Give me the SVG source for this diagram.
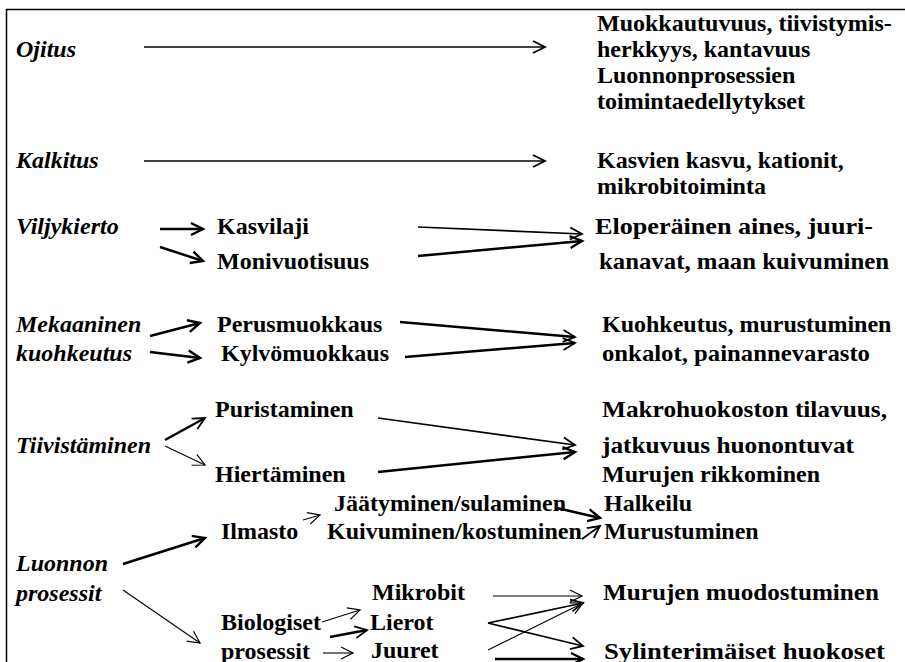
<svg xmlns="http://www.w3.org/2000/svg" width="905" height="662" viewBox="0 0 905 662">
<style>
text{font-family:'Liberation Serif',Tinos,'Times New Roman',serif;font-weight:bold;font-size:24px;fill:#000}
.it{font-style:italic}
.c{fill:none;stroke:#000;stroke-linecap:butt}
.w1{stroke-width:1.1}
.w2{stroke-width:1.7}
.w3{stroke-width:2.5}
</style>
<defs>
<marker id="m1" markerUnits="userSpaceOnUse" markerWidth="16" markerHeight="16" refX="13" refY="7" orient="auto" overflow="visible"><path d="M1,1 L13,7 L1,13" fill="none" stroke="#000" stroke-width="1.2"/></marker>
<marker id="m2" markerUnits="userSpaceOnUse" markerWidth="16" markerHeight="16" refX="13" refY="7" orient="auto" overflow="visible"><path d="M1,1 L13,7 L1,13" fill="none" stroke="#000" stroke-width="1.8"/></marker>
<marker id="m3" markerUnits="userSpaceOnUse" markerWidth="16" markerHeight="16" refX="13" refY="7" orient="auto" overflow="visible"><path d="M1,1 L13,7 L1,13" fill="none" stroke="#000" stroke-width="2.4"/></marker>
</defs>
<path d="M6.5,662 V9.5 H905" fill="none" stroke="#000" stroke-width="1.5"/>

<g id="ojitus"><text class="it" x="16" y="57">Ojitus</text></g>
<g id="ojitus-out"><text x="597" y="31">Muokkautuvuus, tiivistymis-</text><text x="597" y="57">herkkyys, kantavuus</text><text x="597" y="83">Luonnonprosessien</text><text x="597" y="109">toimintaedellytykset</text></g>

<g id="kalkitus"><text class="it" x="16" y="168">Kalkitus</text></g>
<g id="kalkitus-out"><text x="597" y="168">Kasvien kasvu, kationit,</text><text x="597" y="194">mikrobitoiminta</text></g>

<g id="viljykierto"><text class="it" x="16" y="234">Viljykierto</text></g>
<g id="kasvilaji"><text x="217" y="234">Kasvilaji</text></g>
<g id="monivuotisuus"><text x="217" y="269">Monivuotisuus</text></g>
<g id="viljy-out"><text x="595" y="234" textLength="278" lengthAdjust="spacingAndGlyphs">Eloperäinen aines, juuri-</text><text x="599" y="269" textLength="290" lengthAdjust="spacingAndGlyphs">kanavat, maan kuivuminen</text></g>

<g id="mekaaninen"><text class="it" x="16" y="332">Mekaaninen</text><text class="it" x="16" y="361">kuohkeutus</text></g>
<g id="perusmuokkaus"><text x="217" y="332">Perusmuokkaus</text></g>
<g id="kylvomuokkaus"><text x="221" y="361">Kylvömuokkaus</text></g>
<g id="mek-out"><text x="602" y="332">Kuohkeutus, murustuminen</text><text x="602" y="361" textLength="268" lengthAdjust="spacingAndGlyphs">onkalot, painannevarasto</text></g>

<g id="tiivistaminen"><text class="it" x="16" y="453">Tiivistäminen</text></g>
<g id="puristaminen"><text x="215" y="417">Puristaminen</text></g>
<g id="hiertaminen"><text x="215" y="482">Hiertäminen</text></g>
<g id="tiiv-out"><text x="602" y="417" textLength="285" lengthAdjust="spacingAndGlyphs">Makrohuokoston tilavuus,</text><text x="602" y="453" textLength="252" lengthAdjust="spacingAndGlyphs">jatkuvuus huonontuvat</text><text x="602" y="482">Murujen rikkominen</text></g>

<g id="luonnon"><text class="it" x="16" y="571">Luonnon</text><text class="it" x="16" y="601">prosessit</text></g>
<g id="ilmasto"><text x="221" y="539">Ilmasto</text></g>
<g id="jaatyminen"><text x="334" y="511">Jäätyminen/sulaminen</text></g>
<g id="kuivuminen"><text x="327" y="539">Kuivuminen/kostuminen</text></g>
<g id="halkeilu"><text x="604" y="511">Halkeilu</text></g>
<g id="murustuminen"><text x="604" y="539">Murustuminen</text></g>
<g id="biologiset"><text x="221" y="630">Biologiset</text><text x="221" y="659">prosessit</text></g>
<g id="mikrobit"><text x="372" y="600">Mikrobit</text></g>
<g id="lierot"><text x="370" y="630">Lierot</text></g>
<g id="juuret"><text x="371" y="658">Juuret</text></g>
<g id="murujen-muod"><text x="603" y="600" textLength="276" lengthAdjust="spacingAndGlyphs">Murujen muodostuminen</text></g>
<g id="sylinter"><text x="604" y="659" textLength="281" lengthAdjust="spacingAndGlyphs">Sylinterimäiset huokoset</text></g>

<g id="connectors">
<path class="c w2" d="M144,47 H545" marker-end="url(#m2)"/>
<path class="c w2" d="M144,161 H545" marker-end="url(#m2)"/>
<path class="c w3" d="M160,229 L203,229" marker-end="url(#m3)"/>
<path class="c w3" d="M160,247 L203,261" marker-end="url(#m3)"/>
<path class="c w2" d="M418,227 L582,234" marker-end="url(#m2)"/>
<path class="c w3" d="M418,256 L582,241" marker-end="url(#m3)"/>
<path class="c w3" d="M150,336 L200,323" marker-end="url(#m3)"/>
<path class="c w3" d="M150,352 L200,358" marker-end="url(#m3)"/>
<path class="c w3" d="M400,322 L575,337" marker-end="url(#m2)"/>
<path class="c w3" d="M405,357 L575,343" marker-end="url(#m2)"/>
<path class="c w3" d="M165,440 L205,418" marker-end="url(#m2)"/>
<path class="c w1" d="M165,446 L205,465" marker-end="url(#m1)"/>
<path class="c w2" d="M378,418 L575,445" marker-end="url(#m2)"/>
<path class="c w3" d="M378,472 L575,452" marker-end="url(#m3)"/>
<path class="c w3" d="M123,564 L205,538" marker-end="url(#m3)"/>
<path class="c w1" d="M123,590 L200,643" marker-end="url(#m1)"/>
<path class="c w1" d="M303,520 L320,515" marker-end="url(#m1)"/>
<path class="c w3" d="M557,508 L600,518" marker-end="url(#m3)"/>
<path class="c w2" d="M582,539 L600,526" marker-end="url(#m2)"/>
<path class="c w1" d="M322,622 L360,610" marker-end="url(#m1)"/>
<path class="c w3" d="M330,637 L367,630" marker-end="url(#m2)"/>
<path class="c w1" d="M323,653 L353,653" marker-end="url(#m1)"/>
<path class="c w1" d="M493,596 L582,596" marker-end="url(#m1)"/>
<path class="c w2" d="M488,623 L583,603" marker-end="url(#m2)"/>
<path class="c w2" d="M488,623 L583,646" marker-end="url(#m2)"/>
<path class="c w1" d="M488,650 L583,603" marker-end="url(#m1)"/>
<path class="c w3" d="M495,659 L583,659" marker-end="url(#m3)"/>
</g>
</svg>
